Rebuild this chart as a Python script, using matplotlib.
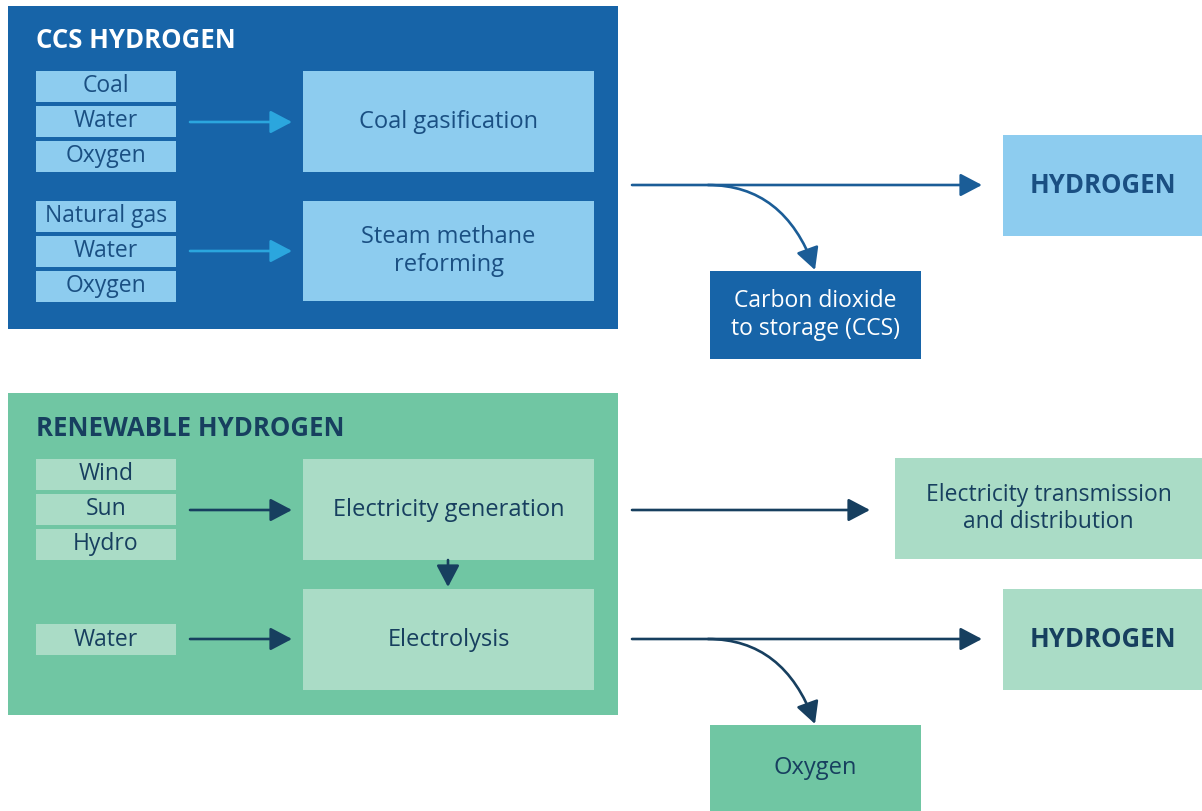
import matplotlib.pyplot as plt
from matplotlib.patches import Rectangle, FancyArrowPatch

# labels
ccs_title = "CCS HYDROGEN"
ccs_inputs_top = ["Coal", "Water", "Oxygen"]
ccs_inputs_bottom = ["Natural gas", "Water", "Oxygen"]
ccs_processes = ["Coal gasification", "Steam methane\nreforming"]
ccs_outputs = ["HYDROGEN", "Carbon dioxide\nto storage (CCS)"]

ren_title = "RENEWABLE HYDROGEN"
ren_inputs_top = ["Wind", "Sun", "Hydro"]
ren_inputs_bottom = ["Water"]
ren_processes = ["Electricity generation", "Electrolysis"]
ren_outputs = ["Electricity transmission\nand distribution", "HYDROGEN", "Oxygen"]

# colours
blue_dark = "#1764a8"
blue_light = "#8dccef"
blue_arrow = "#2ba6de"
blue_line = "#1b5d97"
blue_text = "#1a4f82"
green_mid = "#70c6a3"
green_light = "#aadcc6"
navy = "#173f5f"

plt.rcParams['font.family'] = ['Open Sans', 'DejaVu Sans']

fig = plt.figure(figsize=(12.02, 8.11), dpi=100)
ax = fig.add_axes([0, 0, 1, 1])
ax.set_xlim(0, 1202)
ax.set_ylim(811, 0)
ax.axis("off")


def box(x0, y0, x1, y1, color, text=None, tcolor="k", size=17, weight="normal"):
    ax.add_patch(Rectangle((x0, y0), x1 - x0, y1 - y0, facecolor=color, edgecolor="none"))
    if text:
        ax.text((x0 + x1) / 2, (y0 + y1) / 2, text, ha="center", va="center",
                color=tcolor, fontsize=size, fontweight=weight, linespacing=1.2)


def arrow(p0, p1, color, style="arc3", lw=1.9, hl=0.95, hw=0.5):
    ax.add_patch(FancyArrowPatch(p0, p1, arrowstyle=f"-|>,head_length={hl},head_width={hw}",
                                 connectionstyle=style, color=color, lw=lw,
                                 mutation_scale=14, shrinkA=0, shrinkB=0))


def input_stack(labels, y_start, color, tcolor):
    for i, lab in enumerate(labels):
        y0 = y_start + i * 34.8
        box(36, y0, 176, y0 + 31, color, lab, tcolor, size=16.5)


curve = "angle3,angleA=0,angleB=110"

# ---- CCS hydrogen ----
box(8, 6, 618, 329, blue_dark)
ax.text(36, 40, ccs_title, color="white", fontsize=18.5, fontweight="bold", va="center")
input_stack(ccs_inputs_top, 71, blue_light, blue_text)
input_stack(ccs_inputs_bottom, 201, blue_light, blue_text)
box(303, 71, 594, 172, blue_light, ccs_processes[0], blue_text)
box(303, 201, 594, 301, blue_light, ccs_processes[1], blue_text)
arrow((190, 122), (292, 122), blue_arrow)
arrow((190, 251), (292, 251), blue_arrow)

arrow((632, 185), (982, 185), blue_line)
arrow((708, 185), (815, 270), blue_line, style=curve)
box(1003, 135, 1202, 236, blue_light, ccs_outputs[0], blue_text, size=18.5, weight="bold")
box(710, 271, 921, 359, blue_dark, ccs_outputs[1], "white", size=16.5)

# ---- Renewable hydrogen ----
box(8, 393, 618, 715, green_mid)
ax.text(36, 428, ren_title, color=navy, fontsize=18.5, fontweight="bold", va="center")
input_stack(ren_inputs_top, 459, green_light, navy)
input_stack(ren_inputs_bottom, 624, green_light, navy)
box(303, 459, 594, 560, green_light, ren_processes[0], navy)
box(303, 589, 594, 690, green_light, ren_processes[1], navy)
arrow((190, 510), (292, 510), navy)
arrow((190, 639), (292, 639), navy)
arrow((448, 560), (448, 587), navy, hl=0.95, hw=0.5)

arrow((632, 510), (870, 510), navy)
box(895, 458, 1202, 559, green_light, ren_outputs[0], navy, size=16.5)
arrow((632, 639), (982, 639), navy)
arrow((708, 639), (815, 724), navy, style=curve)
box(1003, 589, 1202, 690, green_light, ren_outputs[1], navy, size=18.5, weight="bold")
box(710, 725, 921, 811, green_mid, ren_outputs[2], navy)

fig.savefig("out.png", dpi=100, facecolor="white")
